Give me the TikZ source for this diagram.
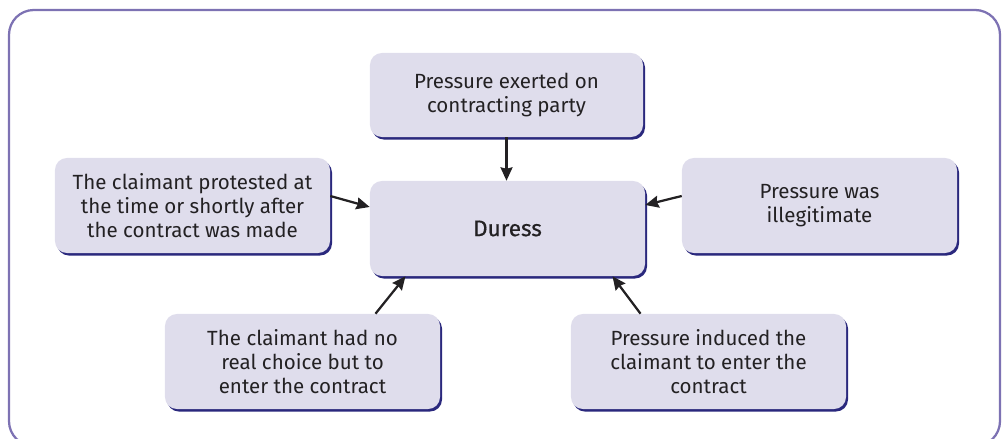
\documentclass[tikz,border=0pt]{standalone}
\usepackage{fontspec}
\setmainfont{Fira Sans}
\usetikzlibrary{arrows.meta,positioning,shadows,calc}
\definecolor{frameline}{RGB}{125,114,179}
\definecolor{boxfill}{RGB}{223,221,236}
\definecolor{boxshade}{RGB}{42,40,125}
\definecolor{txtgray}{RGB}{35,33,35}
\tikzset{
  factbox/.style={fill=boxfill,rounded corners=0.3cm,minimum width=6.875cm,minimum height=2.375cm,
    align=center,text=txtgray,font=\fontsize{14.6}{17.2}\selectfont,
    general shadow={fill=boxshade,shadow xshift=1.4pt,shadow yshift=-1.8pt}},
  arr/.style={-{Stealth[length=9.5pt,width=8.5pt,inset=1pt]},line width=1.6pt,txtgray}
}
\begin{document}
\begin{tikzpicture}[x=0.025cm,y=-0.025cm]
\useasboundingbox (0,0) rectangle (1002,439);
\clip (0,0) rectangle (1002,439);
% Outer frame
\draw[frameline,line width=1.6pt,rounded corners=0.62cm] (9,10) rectangle (1000,446);
% Centre
\node[factbox,font=\fontsize{16}{19}\selectfont\addfontfeature{FakeBold=0.6}] (duress) at (507.5,228.5) {Duress};
% Surrounding factors
\node[factbox,minimum width=6.825cm,minimum height=2.1cm] (top) at (506.5,95) {Pressure exerted on\\contracting party};
\node[factbox] (lft) at (192.5,205.5) {The claimant protested at\\the time or shortly after\\the contract was made};
\node[factbox] (rgt) at (819.5,205.5) {Pressure was\\illegitimate};
\node[factbox] (bl) at (302.5,361.5) {The claimant had no\\real choice but to\\enter the contract};
\node[factbox] (br) at (708.5,361.5) {Pressure induced the\\claimant to enter the\\contract};
% Arrows into duress
\draw[arr] (top.south) -- (top.south |- duress.north);
\draw[arr] ($(lft.east)+(0,-9.5)$) -- ($(duress.west)+(0,-21.5)$);
\draw[arr] ($(rgt.west)+(0,-9.5)$) -- ($(duress.east)+(0,-23.5)$);
\draw[arr] ($(bl.north)+(73,0)$) -- ($(duress.south)+(-102,0)$);
\draw[arr] ($(br.north)+(-68,0)$) -- ($(duress.south)+(105,0)$);
\end{tikzpicture}
\end{document}
